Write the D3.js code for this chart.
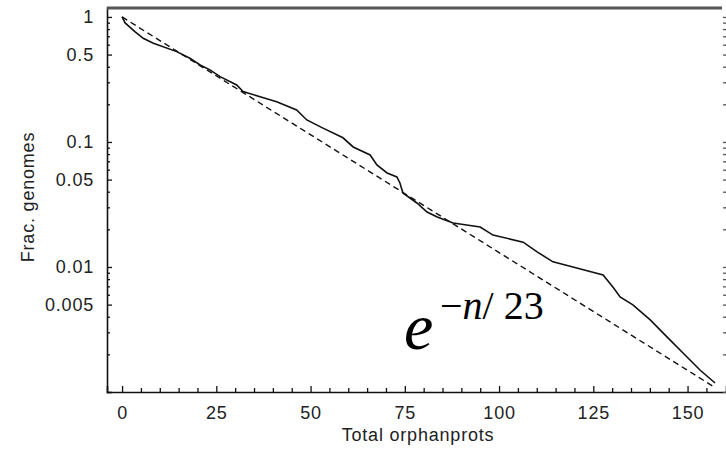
<!DOCTYPE html>
<html>
<head>
<meta charset="utf-8">
<script src="https://cdn.jsdelivr.net/npm/d3@7"></script>
<style>
body { margin: 0; background: #fff; }
text { font-family: "Liberation Sans", Arial, sans-serif; fill: #222; }
</style>
</head>
<body>
<svg id="chart" width="726" height="449"></svg>
<script>
// empirical curve: orphan protein count vs fraction of genomes
var orphanCounts = [0, 0.8, 3.4, 5.6, 8.3, 14.5, 18.0, 20.7, 23.3, 26.0, 30.4, 32.1, 36.6, 41.0, 46.3,
    49.0, 53.3, 58.6, 61.3, 65.8, 67.6, 70.3, 72.9, 73.7, 74.5, 78.2, 80.9, 83.6, 87.8, 95.0,
    98.4, 106.4, 110.1, 114.3, 119.6, 127.6, 130.2, 132.1, 135.5, 140.1, 144.6, 148.8, 153.3, 157.3];
var fracGenomes = [1.0, 0.895, 0.763, 0.675, 0.616, 0.528, 0.468, 0.413, 0.377, 0.333, 0.286, 0.253, 0.230, 0.210, 0.180,
    0.150, 0.129, 0.108, 0.0912, 0.0787, 0.0655, 0.0565, 0.0525, 0.047, 0.0391, 0.0325, 0.0275, 0.0251, 0.0225, 0.0209,
    0.018, 0.0158, 0.0132, 0.011, 0.0100, 0.00863, 0.00692, 0.00575, 0.00497, 0.00377, 0.00275, 0.00205, 0.0015, 0.00118];

// fitted exponential (dashed), read at its two ends
var fitCounts = [0, 157];
var fitFrac = [1.0, 0.0011];

var xTicks = [0, 25, 50, 75, 100, 125, 150];
var yTicks = [1, 0.5, 0.1, 0.05, 0.01, 0.005];
var yTickLabels = ["1", "0.5", "0.1", "0.05", "0.01", "0.005"];

var svg = d3.select("#chart");

var xScale = d3.scaleLinear().domain([-4, 160.2]).range([107, 726]);
var yScale = d3.scaleLog().domain([0.001, 1.19]).range([392, 7.5]);

// minor ticks
var yMinor = yScale.ticks().filter(function(v) { return yTicks.indexOf(v) < 0; });
var xMinor = d3.range(5, 160, 5).filter(function(v) { return v % 25 != 0; });

svg.append("g").attr("transform", "translate(107,0)")
    .call(d3.axisLeft(yScale).tickValues(yMinor).tickSize(-3).tickFormat(""))
    .call(function(g) { g.select(".domain").remove(); });

svg.append("g").attr("transform", "translate(0,392)")
    .call(d3.axisBottom(xScale).tickValues(xMinor).tickSize(-4).tickFormat(""))
    .call(function(g) { g.select(".domain").remove(); });

// major axes
var yAxis = svg.append("g").attr("transform", "translate(107,0)")
    .call(d3.axisLeft(yScale).tickValues(yTicks).tickSize(-5).tickPadding(13)
        .tickFormat(function(d, i) { return yTickLabels[i]; }));

var xAxis = svg.append("g").attr("transform", "translate(0,392)")
    .call(d3.axisBottom(xScale).tickValues(xTicks).tickSize(-6).tickPadding(14)
        .tickFormat(function(d) { return d; }));

svg.selectAll(".tick text")
    .style("font-size", "18px")
    .style("letter-spacing", "0.8px")
    .attr("fill", "#222");
svg.selectAll(".domain").attr("stroke", "#111").attr("stroke-width", 1.6);
svg.selectAll(".tick line").attr("stroke", "#111").attr("stroke-width", 1.3);

// right side ticks (no line)
svg.append("g").attr("transform", "translate(726,0)")
    .call(d3.axisLeft(yScale).tickValues(yScale.ticks()).tickSize(3).tickFormat(""))
    .call(function(g) {
        g.select(".domain").remove();
        g.selectAll("line").attr("stroke", "#555").attr("stroke-width", 1.3);
    });

// top frame line
svg.append("line")
    .attr("x1", 107).attr("x2", 722)
    .attr("y1", 8).attr("y2", 8)
    .attr("stroke", "#555").attr("stroke-width", 3);

// curves
var line = d3.line()
    .x(function(d) { return xScale(d[0]); })
    .y(function(d) { return yScale(d[1]); });

svg.append("path")
    .datum(d3.zip(fitCounts, fitFrac))
    .attr("d", line)
    .attr("fill", "none")
    .attr("stroke", "#111")
    .attr("stroke-width", 1.4)
    .attr("stroke-dasharray", "6,4");

svg.append("path")
    .datum(d3.zip(orphanCounts, fracGenomes))
    .attr("d", line)
    .attr("fill", "none")
    .attr("stroke", "#111")
    .attr("stroke-width", 1.6);

// axis titles
svg.append("text")
    .attr("x", 418).attr("y", 441)
    .attr("text-anchor", "middle")
    .style("font-size", "18px")
    .style("letter-spacing", "0.8px")
    .text("Total orphanprots");

svg.append("text")
    .attr("transform", "translate(34,197) rotate(-90)")
    .attr("text-anchor", "middle")
    .style("font-size", "18px")
    .style("letter-spacing", "0.8px")
    .text("Frac. genomes");

// formula label
var formula = svg.append("text")
    .attr("x", 404).attr("y", 349)
    .style("font-family", "'Liberation Serif', 'Times New Roman', serif")
    .attr("fill", "#000");
formula.append("tspan")
    .style("font-size", "66px").style("font-style", "italic")
    .style("fill", "#000")
    .text("e");
formula.append("tspan")
    .attr("x", 440).attr("y", 319)
    .style("font-size", "40px")
    .style("fill", "#000")
    .text("\u2212");
formula.append("tspan")
    .style("font-size", "40px").style("font-style", "italic")
    .style("fill", "#000")
    .text("n");
formula.append("tspan")
    .style("font-size", "40px")
    .style("fill", "#000")
    .text("/ 23");
</script>
</body>
</html>
